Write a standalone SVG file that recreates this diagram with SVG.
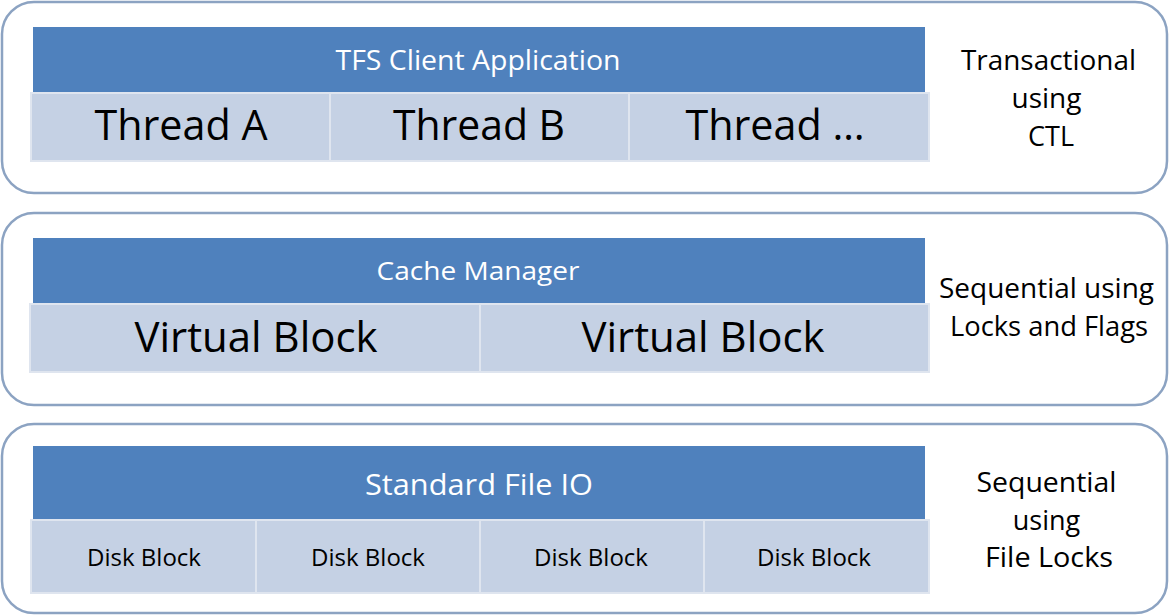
<svg xmlns="http://www.w3.org/2000/svg" width="1169" height="615" viewBox="0 0 1169 615">
  <style>
    .frame { fill: #ffffff; stroke: #8ca3c2; stroke-width: 2.5; }
    .head { fill: #4f81bd; }
    .cell { fill: #c5d1e4; stroke: #dfe5ef; stroke-width: 2; }
    .t { font-family: "Open Sans", "Liberation Sans", sans-serif; text-anchor: middle; }
    .hdr { fill: #ffffff; }
    .dark { fill: #000000; }
  </style>
  <rect width="1169" height="615" fill="#ffffff"/>

  <!-- Layer 1: client application -->
  <g id="layer-client">
    <rect class="frame" x="2" y="2" width="1165" height="191" rx="32"/>
    <rect class="head" x="33" y="27" width="892" height="66"/>
    <text class="t hdr" x="478" y="70" font-size="27" textLength="285" lengthAdjust="spacingAndGlyphs">TFS Client Application</text>
    <g id="thread-a">
      <rect class="cell" x="31" y="93" width="299" height="68"/>
      <text class="t dark" x="181" y="140" font-size="42" textLength="173" lengthAdjust="spacingAndGlyphs">Thread A</text>
    </g>
    <g id="thread-b">
      <rect class="cell" x="330" y="93" width="299" height="68"/>
      <text class="t dark" x="479" y="140" font-size="42" textLength="172" lengthAdjust="spacingAndGlyphs">Thread B</text>
    </g>
    <g id="thread-more">
      <rect class="cell" x="629" y="93" width="300" height="68"/>
      <text class="t dark" x="775" y="140" font-size="42" textLength="179" lengthAdjust="spacingAndGlyphs">Thread …</text>
    </g>
    <text class="t dark" font-size="27">
      <tspan x="1052" y="70" textLength="175" lengthAdjust="spacingAndGlyphs">Transactional</tspan>
      <tspan x="1050" y="108" textLength="70" lengthAdjust="spacingAndGlyphs">using</tspan>
      <tspan x="1051" y="146">CTL</tspan>
    </text>
  </g>

  <!-- Layer 2: cache manager -->
  <g id="layer-cache">
    <rect class="frame" x="2" y="213" width="1165" height="192" rx="32"/>
    <rect class="head" x="33" y="238" width="892" height="66"/>
    <text class="t hdr" x="478" y="280" font-size="25" textLength="203" lengthAdjust="spacingAndGlyphs">Cache Manager</text>
    <g id="virtual-block-1">
      <rect class="cell" x="30" y="304" width="450" height="68"/>
      <text class="t dark" x="256" y="352" font-size="42" textLength="243" lengthAdjust="spacingAndGlyphs">Virtual Block</text>
    </g>
    <g id="virtual-block-2">
      <rect class="cell" x="480" y="304" width="449" height="68"/>
      <text class="t dark" x="703" y="352" font-size="42" textLength="243" lengthAdjust="spacingAndGlyphs">Virtual Block</text>
    </g>
    <text class="t dark" font-size="27">
      <tspan x="1050" y="298" textLength="215" lengthAdjust="spacingAndGlyphs">Sequential using</tspan>
      <tspan x="1049" y="336" textLength="198" lengthAdjust="spacingAndGlyphs">Locks and Flags</tspan>
    </text>
  </g>

  <!-- Layer 3: standard file IO -->
  <g id="layer-fileio">
    <rect class="frame" x="2" y="424" width="1165" height="189" rx="32"/>
    <rect class="head" x="33" y="446" width="892" height="74"/>
    <text class="t hdr" x="479" y="495" font-size="29" textLength="228" lengthAdjust="spacingAndGlyphs">Standard File IO</text>
    <g id="disk-block-1">
      <rect class="cell" x="31" y="520" width="225" height="73"/>
      <text class="t dark" x="144" y="566" font-size="23" textLength="114" lengthAdjust="spacingAndGlyphs">Disk Block</text>
    </g>
    <g id="disk-block-2">
      <rect class="cell" x="256" y="520" width="224" height="73"/>
      <text class="t dark" x="368" y="566" font-size="23" textLength="114" lengthAdjust="spacingAndGlyphs">Disk Block</text>
    </g>
    <g id="disk-block-3">
      <rect class="cell" x="480" y="520" width="224" height="73"/>
      <text class="t dark" x="591" y="566" font-size="23" textLength="114" lengthAdjust="spacingAndGlyphs">Disk Block</text>
    </g>
    <g id="disk-block-4">
      <rect class="cell" x="704" y="520" width="225" height="73"/>
      <text class="t dark" x="814" y="566" font-size="23" textLength="114" lengthAdjust="spacingAndGlyphs">Disk Block</text>
    </g>
    <text class="t dark" font-size="27">
      <tspan x="1050" y="492" textLength="140" lengthAdjust="spacingAndGlyphs">Sequential</tspan>
      <tspan x="1050" y="530">using</tspan>
      <tspan x="1049" y="567" textLength="128" lengthAdjust="spacingAndGlyphs">File Locks</tspan>
    </text>
  </g>

  <!-- no connectors between layers -->
  <g id="connectors"/>
</svg>
